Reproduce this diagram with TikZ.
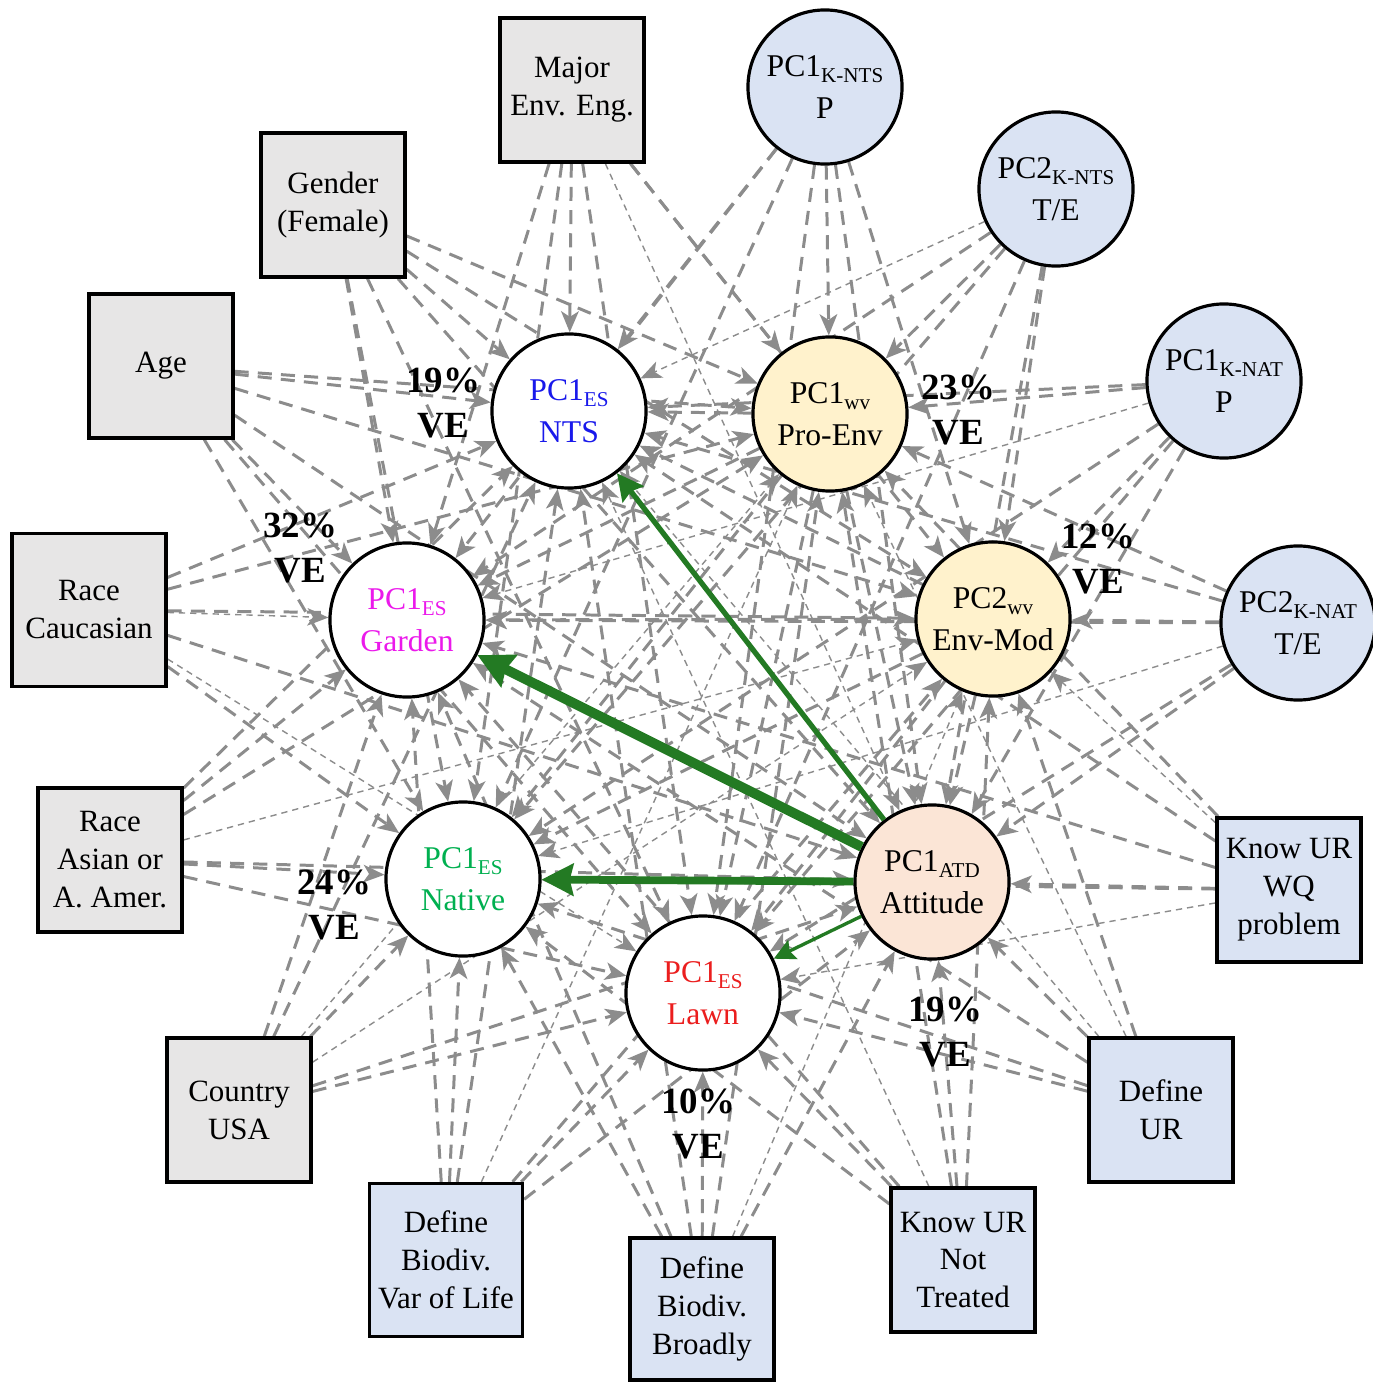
\documentclass[tikz,border=0pt]{standalone}
\usepackage{fontspec}
\setmainfont{Liberation Serif}
\usetikzlibrary{arrows.meta,backgrounds}
\definecolor{boxgray}{RGB}{231,230,230}
\definecolor{boxblue}{RGB}{218,227,243}
\definecolor{wvyellow}{RGB}{255,242,204}
\definecolor{atdpeach}{RGB}{251,229,214}
\definecolor{edgegray}{RGB}{140,140,140}
\definecolor{pathgreen}{RGB}{35,122,35}
\definecolor{esblue}{RGB}{25,25,235}
\definecolor{esmagenta}{RGB}{235,25,235}
\definecolor{esgreen}{RGB}{0,176,80}
\definecolor{esred}{RGB}{235,30,30}
\newcommand\sbs[1]{\raisebox{-0.45ex}{\fontsize{6}{7}\selectfont #1}}
\tikzset{
  box/.style={draw=black, line width=0.9pt, minimum width=1.44cm, minimum height=1.44cm,
    align=center, inner sep=1pt, font=\fontsize{8.8}{10.8}\selectfont},
  graybox/.style={box, fill=boxgray},
  bluebox/.style={box, fill=boxblue},
  var/.style={circle, draw=black, line width=0.9pt, minimum size=1.54cm, inner sep=0pt,
    align=center, font=\fontsize{9}{12}\selectfont},
  kvar/.style={var, fill=boxblue},
  esvar/.style={var, fill=white},
  wvvar/.style={var, fill=wvyellow},
  atdvar/.style={var, fill=atdpeach},
  ve/.style={align=center, font=\bfseries\fontsize{10.5}{12.6}\selectfont},
  dpath/.style={edgegray, line width=0.85pt, dash pattern=on 4pt off 2.6pt,
    -{Stealth[length=6pt,width=5pt,inset=1.6pt]}},
  tpath/.style={edgegray, line width=0.4pt, dash pattern=on 1.8pt off 1.4pt,
    -{Stealth[length=6pt,width=5pt,inset=1.6pt]}},
  gpath/.style={pathgreen, -{Stealth[length=#1,width=#1,inset=1pt]}}
}
\begin{document}
\begin{tikzpicture}[x=0.01cm,y=-0.01cm]
\useasboundingbox (0,0) rectangle (1373,1382);
% exogenous boxes
\node[graybox] (maj) at (572,90) {Major\\Env. Eng.};
\node[graybox] (gen) at (333,205) {Gender\\(Female)};
\node[graybox] (age) at (161,366) {Age};
\node[graybox, minimum width=1.54cm, minimum height=1.53cm] (cau) at (89,610) {Race\\Caucasian};
\node[graybox] (asi) at (110,860) {Race\\Asian or\\A. Amer.};
\node[graybox] (usa) at (239,1110) {Country\\USA};
\node[bluebox, minimum width=1.53cm, minimum height=1.53cm] (vol) at (446,1260) {Define\\Biodiv.\\Var of Life};
\node[bluebox, minimum height=1.42cm] (bro) at (702,1309) {Define\\Biodiv.\\Broadly};
\node[bluebox] (ntr) at (963,1260) {Know UR\\Not\\Treated};
\node[bluebox] (dur) at (1161,1110) {Define\\UR};
\node[bluebox] (wq) at (1289,890) {Know UR\\WQ\\problem};
% knowledge circles
\node[kvar] (kntsp) at (825,87) {PC1\sbs{K-NTS}\\P};
\node[kvar] (kntste) at (1056,189) {PC2\sbs{K-NTS}\\T/E};
\node[kvar] (knatp) at (1224,381) {PC1\sbs{K-NAT}\\P};
\node[kvar] (knatte) at (1298,623) {PC2\sbs{K-NAT}\\T/E};
% endogenous
\node[esvar, text=esblue] (nts) at (569,411) {PC1\sbs{ES}\\NTS};
\node[esvar, text=esmagenta] (gar) at (407,620) {PC1\sbs{ES}\\Garden};
\node[esvar, text=esgreen] (nat) at (463,879) {PC1\sbs{ES}\\Native};
\node[esvar, text=esred] (lawn) at (703,993) {PC1\sbs{ES}\\Lawn};
\node[wvvar] (pro) at (830,414) {PC1\sbs{wv}\\Pro-Env};
\node[wvvar] (env) at (993,619) {PC2\sbs{wv}\\Env-Mod};
\node[atdvar] (atd) at (932,882) {PC1\sbs{ATD}\\Attitude};
% VE labels
\node[ve] (ve1) at (443,403) {19\%\\VE};
\node[ve] (ve2) at (958,410) {23\%\\VE};
\node[ve] (ve3) at (300,548) {32\%\\VE};
\node[ve] (ve4) at (1098,559) {12\%\\VE};
\node[ve] (ve5) at (334,905) {24\%\\VE};
\node[ve] (ve6) at (945,1032) {19\%\\VE};
\node[ve] (ve7) at (698,1124) {10\%\\VE};
% dashed paths
\foreach \p in {maj-atd,cau-gar,cau-lawn,asi-env,usa-pro,usa-env,dur-nts,dur-pro,bro-env,kntste-nts,knatp-gar,wq-lawn,wq-env,ntr-nts,vol-pro,knatte-nat}
  {\expandafter\gdef\csname thin-\p\endcsname{}}
\begin{pgfonlayer}{background}
\foreach \src in {maj,gen,age,cau,asi,usa,vol,bro,ntr,dur,wq,kntsp,kntste,knatp,knatte}{
  \foreach \tgt in {nts,gar,nat,lawn,pro,env,atd}{
    \ifcsname thin-\src-\tgt\endcsname
      \draw[tpath] (\src) -- (\tgt);
    \else
      \draw[dpath] (\src) -- (\tgt);
    \fi
  }
}
\foreach \src in {pro,env}{
  \foreach \tgt in {nts,gar,nat,lawn,atd}{
    \draw[dpath] (\src) -- (\tgt);
  }
}
\end{pgfonlayer}
% significant paths
\draw[gpath=10pt, line width=2.8pt] (atd) -- (gar);
\draw[gpath=9pt, line width=2.2pt] (atd) -- (nat);
\draw[gpath=7.5pt, line width=1.5pt] (atd) -- (nts);
\draw[gpath=6pt, line width=0.95pt] (atd) -- (lawn);
\end{tikzpicture}
\end{document}
